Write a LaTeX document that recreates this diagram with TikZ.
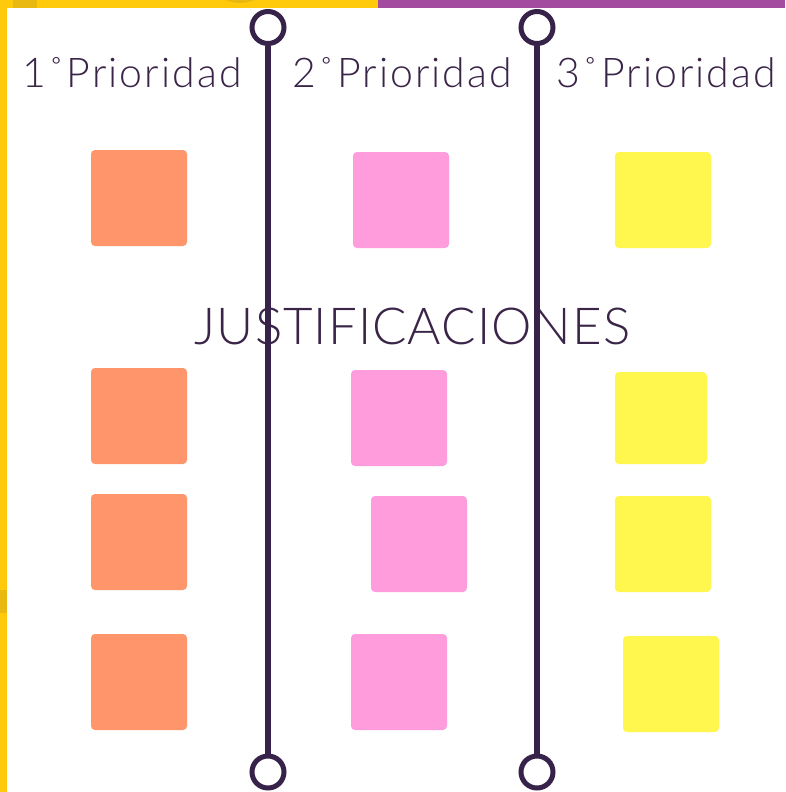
\documentclass[tikz,border=0pt]{standalone}
\usepackage{fontspec}
\setmainfont{Lato}[UprightFont=* Light]
\definecolor{barYellow}{HTML}{FFCA0C}
\definecolor{barYellowDark}{HTML}{E9B912}
\definecolor{barPurple}{HTML}{A24B9F}
\definecolor{ink}{HTML}{3A2549}
\definecolor{lineInk}{HTML}{37224A}
\definecolor{noteOrange}{HTML}{FF956A}
\definecolor{notePink}{HTML}{FF9CDC}
\definecolor{noteYellow}{HTML}{FFF74E}
\begin{document}
\begin{tikzpicture}[x=1pt,y=-1pt,
  note/.style={rounded corners=4pt, minimum width=96pt, minimum height=96pt, inner sep=0pt, draw=none},
  ring/.style={circle, draw=lineInk, line width=5pt, minimum size=32pt, inner sep=0pt, fill=white},
  title/.style={text=ink, font=\fontsize{41}{41}\selectfont\addfontfeature{LetterSpace=5}, anchor=base, inner sep=0pt},
  bigtitle/.style={text=ink, font=\fontsize{51}{51}\selectfont\addfontfeature{LetterSpace=2}, anchor=base, inner sep=0pt},
  rail/.style={draw=lineInk, line width=6pt}]
\useasboundingbox (0,0) rectangle (785,792);
\fill[white] (0,0) rectangle (785,792);
% frame bars
\fill[barYellow] (0,0) rectangle (378,8);
\fill[barPurple] (378,0) rectangle (785,8);
\fill[barYellow] (0,0) rectangle (7,792);
\fill[barYellowDark] (13,0) rectangle (37,8);
\fill[barYellowDark] (0,590) rectangle (7,613);
\begin{scope}
\clip (0,0) rectangle (378,8);
\fill[barYellowDark] (240,-7) ellipse (20 and 10);
\end{scope}
% headings
\node[title] (h1) at (132,88) {1˚Prioridad};
\node[title] (h2) at (402.5,88) {2˚Prioridad};
\node[title] (h3) at (666.5,88) {3˚Prioridad};
\node[bigtitle] (just) at (412.5,344) {JUSTIFICACIONES};
% notes
\node[note, fill=noteOrange] (o1) at (139,198) {};
\node[note, fill=noteOrange] (o2) at (139,416) {};
\node[note, fill=noteOrange] (o3) at (139,542) {};
\node[note, fill=noteOrange] (o4) at (139,682) {};
\node[note, fill=notePink] (p1) at (401,200) {};
\node[note, fill=notePink] (p2) at (399,418) {};
\node[note, fill=notePink] (p3) at (419,544) {};
\node[note, fill=notePink] (p4) at (399,682) {};
\node[note, fill=noteYellow] (y1) at (663,200) {};
\node[note, fill=noteYellow, minimum width=92pt, minimum height=92pt] (y2) at (661,418) {};
\node[note, fill=noteYellow] (y3) at (663,544) {};
\node[note, fill=noteYellow] (y4) at (671,684) {};
% dividers
\node[ring] (t1) at (268,27.5) {};
\node[ring] (b1) at (268,772) {};
\node[ring] (t2) at (537,27.5) {};
\node[ring] (b2) at (537,772) {};
\draw[rail] (t1.south) -- (b1.north);
\draw[rail] (t2.south) -- (b2.north);
\end{tikzpicture}
\end{document}
